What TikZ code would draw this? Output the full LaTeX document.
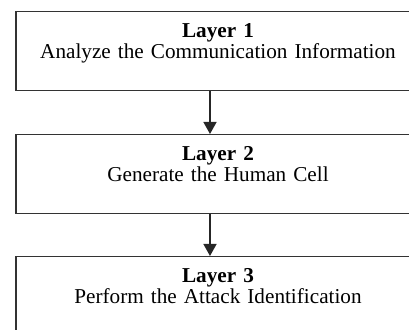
\documentclass[tikz,border=0pt]{standalone}
\usepackage{fontspec}
\setmainfont{Liberation Serif}
\usepackage{tikz}
\usetikzlibrary{arrows.meta}
\tikzstyle{layer}=[rectangle, draw=black!80, line width=0.75pt, inner xsep=0pt, inner ysep=0pt,
  minimum width=202pt, text width=202pt, align=center, text height=13pt, text depth=26.5pt,
  font=\fontsize{10.6}{10.3}\selectfont]
\tikzstyle{flow}=[draw=black!85, line width=0.75pt, -{Triangle[width=6.5pt, length=6pt]}]

\begin{document}
\begin{tikzpicture}[x=1pt, y=1pt]
    \clip (0, 0) rectangle (204.5, 165);
    \node[layer, anchor=north] (1) at (109, 159.5) {\textbf{Layer 1}\\Analyze the Communication Information};
    \node[layer, anchor=north] (2) at (109, 98) {\textbf{Layer 2}\\Generate the Human Cell};
    \node[layer, anchor=north] (3) at (109, 37) {\textbf{Layer 3}\\Perform the Attack Identification};
    \draw[flow] ([xshift=-4pt]1.south)--([xshift=-4pt]2.north);
    \draw[flow] ([xshift=-4pt]2.south)--([xshift=-4pt]3.north);
\end{tikzpicture}
\end{document}
